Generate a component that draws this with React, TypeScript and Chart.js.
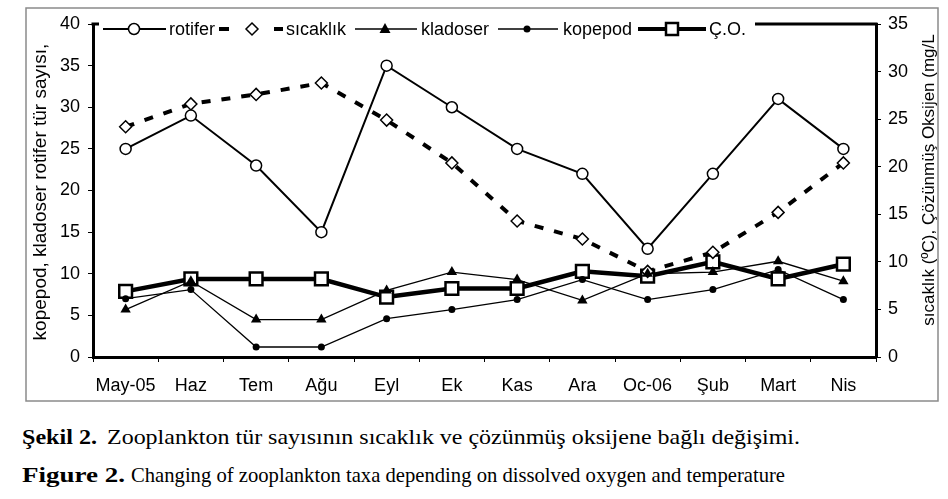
import React, { useEffect, useRef } from "react";
import { Chart, registerables } from "chart.js";

Chart.register(...registerables);

const months = ["May-05", "Haz", "Tem", "Ağu", "Eyl", "Ek", "Kas", "Ara", "Oc-06", "Şub", "Mart", "Nis"];
const rotifer = [25, 29, 23, 15, 35, 30, 25, 22, 13, 22, 31, 25];
const sicaklik = [24.2, 26.6, 27.6, 28.8, 24.9, 20.4, 14.3, 12.4, 9.0, 11.0, 15.2, 20.4];
const kladoser = [5.7, 9.1, 4.5, 4.5, 8.0, 10.2, 9.3, 6.8, 10.0, 10.2, 11.5, 9.1];
const kopepod = [7.0, 8.1, 1.2, 1.2, 4.6, 5.7, 6.9, 9.3, 6.9, 8.1, 10.5, 6.9];
const cozunmusOksijen = [6.9, 8.2, 8.2, 8.2, 6.3, 7.2, 7.2, 9.0, 8.5, 10.0, 8.2, 9.75];

const leftTicks = { min: 0, max: 40, step: 5 };
const rightTicks = { min: 0, max: 35, step: 5 };

const seriesNames = ["rotifer", "sıcaklık", "kladoser", "kopepod", "Ç.O."];
const leftTitle = "kopepod, kladoser rotifer tür sayısı,";
const rightTitle = "sıcaklık (ºC), Çözünmüş Oksijen (mg/L";
const caption1Bold = "Şekil 2.";
const caption1 = "Zooplankton tür sayısının sıcaklık ve çözünmüş oksijene bağlı değişimi.";
const caption2Bold = "Figure 2.";
const caption2 = "Changing of zooplankton taxa depending on dissolved oxygen and temperature";

const FONT = "'Liberation Sans', Arial, sans-serif";
const SERIF = "'Liberation Serif', 'Times New Roman', serif";
const CAP_SIZE = 21;

function drawMarker(ctx: CanvasRenderingContext2D, kind: string, x: number, y: number) {
  ctx.save();
  ctx.strokeStyle = "#000";
  ctx.fillStyle = "#000";
  ctx.setLineDash([]);
  if (kind === "circleOpen") {
    ctx.beginPath();
    ctx.arc(x, y, 5.5, 0, Math.PI * 2);
    ctx.fillStyle = "#fff";
    ctx.fill();
    ctx.lineWidth = 1.5;
    ctx.stroke();
  } else if (kind === "diamond") {
    ctx.beginPath();
    ctx.moveTo(x, y - 6);
    ctx.lineTo(x + 6, y);
    ctx.lineTo(x, y + 6);
    ctx.lineTo(x - 6, y);
    ctx.closePath();
    ctx.fillStyle = "#fff";
    ctx.fill();
    ctx.lineWidth = 1.5;
    ctx.stroke();
  } else if (kind === "triangle") {
    ctx.beginPath();
    ctx.moveTo(x, y - 6);
    ctx.lineTo(x + 5.5, y + 4);
    ctx.lineTo(x - 5.5, y + 4);
    ctx.closePath();
    ctx.fill();
  } else if (kind === "dot") {
    ctx.beginPath();
    ctx.arc(x, y, 3.5, 0, Math.PI * 2);
    ctx.fill();
  } else if (kind === "square") {
    ctx.fillStyle = "#fff";
    ctx.fillRect(x - 6, y - 6, 12, 12);
    ctx.lineWidth = 2.5;
    ctx.strokeRect(x - 6, y - 6, 12, 12);
  }
  ctx.restore();
}

const decorPlugin = {
  id: "decor",
  beforeDraw(chart: any) {
    const ctx = chart.ctx as CanvasRenderingContext2D;
    ctx.save();
    ctx.fillStyle = "#fff";
    ctx.fillRect(0, 0, chart.width, chart.height);
    ctx.strokeStyle = "#8a8a8a";
    ctx.lineWidth = 1.5;
    ctx.strokeRect(26, 8, 912, 393);
    ctx.restore();
  },
  beforeDatasetsDraw(chart: any) {
    const ctx = chart.ctx as CanvasRenderingContext2D;
    const a = chart.chartArea;
    ctx.save();
    ctx.strokeStyle = "#000";
    ctx.lineWidth = 3;
    ctx.beginPath();
    ctx.moveTo(a.left - 1.5, a.top);
    ctx.lineTo(a.right + 1.5, a.top);
    ctx.stroke();
    ctx.restore();
  },
  afterDatasetsDraw(chart: any) {
    const ctx = chart.ctx as CanvasRenderingContext2D;
    const y = 29;
    ctx.save();
    ctx.fillStyle = "#fff";
    ctx.fillRect(99, 15, 656, 28);
    ctx.strokeStyle = "#000";
    ctx.lineCap = "butt";
    const line = (x1: number, x2: number, w: number) => {
      ctx.lineWidth = w;
      ctx.beginPath();
      ctx.moveTo(x1, y);
      ctx.lineTo(x2, y);
      ctx.stroke();
    };
    line(103, 166, 2);
    drawMarker(ctx, "circleOpen", 134, y);
    line(219, 229, 4);
    line(274, 283, 4);
    drawMarker(ctx, "diamond", 252, y);
    line(355, 417, 1.5);
    drawMarker(ctx, "triangle", 385, y);
    line(498, 558, 1.5);
    drawMarker(ctx, "dot", 527, y);
    line(638, 706, 4);
    drawMarker(ctx, "square", 672, y);

    ctx.fillStyle = "#000";
    ctx.font = `18px ${FONT}`;
    ctx.textBaseline = "middle";
    ctx.textAlign = "left";
    const xs = [169, 286, 421, 563, 709];
    seriesNames.forEach((n, i) => ctx.fillText(n, xs[i], y + 1));
    ctx.restore();
  },
  afterDraw(chart: any) {
    const ctx = chart.ctx as CanvasRenderingContext2D;
    ctx.save();
    ctx.fillStyle = "#000";
    ctx.font = `19px ${FONT}`;
    ctx.textAlign = "center";
    ctx.textBaseline = "middle";
    ctx.translate(41, 192);
    ctx.rotate(-Math.PI / 2);
    ctx.fillText(leftTitle, 0, 0);
    ctx.restore();
    ctx.save();
    ctx.fillStyle = "#000";
    ctx.font = `17px ${FONT}`;
    ctx.textAlign = "center";
    ctx.textBaseline = "middle";
    ctx.translate(929, 180);
    ctx.rotate(-Math.PI / 2);
    ctx.fillText(rightTitle, 0, 0);
    ctx.restore();
  },
};

let measureCtx: CanvasRenderingContext2D | null = null;
function measure(text: string, bold: boolean) {
  if (!measureCtx) measureCtx = document.createElement("canvas").getContext("2d");
  if (!measureCtx) return text.length * CAP_SIZE * 0.45;
  measureCtx.font = `${bold ? "bold " : ""}${CAP_SIZE}px ${SERIF}`;
  return measureCtx.measureText(text).width;
}

function Seg(props: { text: string; left: number; right: number; top: number; bold?: boolean }) {
  const { text, left, right, top, bold } = props;
  const w = measure(text, !!bold);
  const sx = w > 0 ? (right - left) / w : 1;
  return (
    <span
      style={{
        position: "absolute",
        left,
        top,
        whiteSpace: "pre",
        fontFamily: SERIF,
        fontSize: CAP_SIZE,
        fontWeight: bold ? "bold" : "normal",
        lineHeight: "22px",
        color: "#000",
        transform: `scaleX(${sx})`,
        transformOrigin: "0 0",
      }}
    >
      {text}
    </span>
  );
}

export default function App() {
  const ref = useRef<HTMLCanvasElement | null>(null);

  useEffect(() => {
    if (!ref.current) return;
    const chart = new Chart(ref.current, {
      type: "line",
      data: {
        labels: months,
        datasets: [
          {
            label: seriesNames[0],
            data: rotifer,
            yAxisID: "y",
            borderColor: "#000",
            borderWidth: 2,
            pointStyle: "circle",
            pointRadius: 5.5,
            pointBackgroundColor: "#fff",
            pointBorderColor: "#000",
            pointBorderWidth: 1.5,
            order: 3,
          },
          {
            label: seriesNames[1],
            data: sicaklik,
            yAxisID: "y1",
            borderColor: "#000",
            borderWidth: 4,
            borderDash: [9, 11],
            pointStyle: "rectRot",
            pointRadius: 6,
            pointBackgroundColor: "#fff",
            pointBorderColor: "#000",
            pointBorderWidth: 1.5,
            order: 4,
          },
          {
            label: seriesNames[2],
            data: kladoser,
            yAxisID: "y",
            borderColor: "#000",
            borderWidth: 1.3,
            pointStyle: "triangle",
            pointRadius: 6,
            pointBackgroundColor: "#000",
            pointBorderColor: "#000",
            pointBorderWidth: 0,
            order: 2,
          },
          {
            label: seriesNames[3],
            data: kopepod,
            yAxisID: "y",
            borderColor: "#000",
            borderWidth: 1.3,
            pointStyle: "circle",
            pointRadius: 3.5,
            pointBackgroundColor: "#000",
            pointBorderColor: "#000",
            pointBorderWidth: 0,
            order: 1,
          },
          {
            label: seriesNames[4],
            data: cozunmusOksijen,
            yAxisID: "y1",
            borderColor: "#000",
            borderWidth: 4.5,
            pointStyle: "rect",
            pointRadius: 9,
            pointBackgroundColor: "#fff",
            pointBorderColor: "#000",
            pointBorderWidth: 2.5,
            order: 5,
          },
        ],
      },
      options: {
        responsive: false,
        animation: false,
        events: [],
        layout: { padding: { left: 0, right: 0, top: 24, bottom: 0 } },
        plugins: {
          legend: { display: false },
          tooltip: { enabled: false },
          title: { display: false },
        },
        elements: { line: { tension: 0 } },
        scales: {
          x: {
            type: "category",
            offset: true,
            grid: {
              offset: true,
              drawOnChartArea: false,
              drawTicks: true,
              tickLength: 5,
              color: "#000",
              lineWidth: 1,
            },
            border: { display: true, color: "#000", width: 3 },
            ticks: {
              color: "#000",
              font: { family: FONT, size: 18 },
              padding: 13,
              maxRotation: 0,
              autoSkip: false,
            },
            afterFit: (s: any) => {
              s.height = 48;
            },
          },
          y: {
            position: "left",
            min: leftTicks.min,
            max: leftTicks.max,
            grid: {
              drawOnChartArea: false,
              drawTicks: true,
              tickLength: 5,
              color: "#000",
              lineWidth: 1,
            },
            border: { display: true, color: "#000", width: 3 },
            ticks: {
              stepSize: leftTicks.step,
              color: "#000",
              font: { family: FONT, size: 18 },
              padding: 8,
            },
            afterFit: (s: any) => {
              s.width = 93;
            },
          },
          y1: {
            position: "right",
            min: rightTicks.min,
            max: rightTicks.max,
            grid: {
              drawOnChartArea: false,
              drawTicks: true,
              tickLength: 5,
              color: "#000",
              lineWidth: 1,
            },
            border: { display: true, color: "#000", width: 3 },
            ticks: {
              stepSize: rightTicks.step,
              color: "#000",
              font: { family: FONT, size: 18 },
              padding: 7,
            },
            afterFit: (s: any) => {
              s.width = 72;
            },
          },
        },
      },
      plugins: [decorPlugin],
    });
    return () => chart.destroy();
  }, []);

  return (
    <div style={{ position: "absolute", left: 0, top: 0, width: 948, height: 499, background: "#fff", overflow: "hidden" }}>
      <canvas ref={ref} width={948} height={405} style={{ position: "absolute", left: 0, top: 0, width: 948, height: 405 }} />
      <Seg text={caption1Bold} left={22} right={97} top={426} bold />
      <Seg text={caption1} left={107} right={800} top={426} />
      <Seg text={caption2Bold} left={22} right={125} top={464} bold />
      <Seg text={caption2} left={131} right={785} top={464} />
    </div>
  );
}
